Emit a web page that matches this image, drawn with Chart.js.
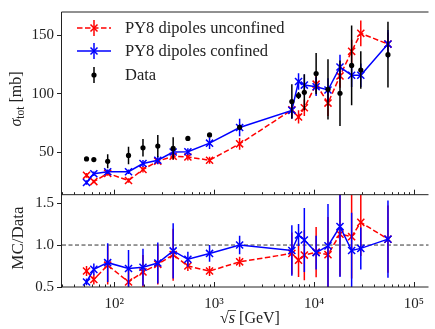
<!DOCTYPE html>
<html>
<head>
<meta charset="utf-8">
<script src="https://cdn.jsdelivr.net/npm/chart.js@4"></script>
<style>
  html, body { margin: 0; padding: 0; background: #fff; }
  #box { width: 435px; height: 329px; }
</style>
</head>
<body>
<div id="box"><canvas id="xsec" width="435" height="329"></canvas></div>
<script>
// ---------------- data ----------------
const energy = [52.8, 62.5, 86, 139, 194, 273, 389, 546, 900, 1800,
                6000, 7000, 8000, 10500, 13800, 18200, 23800, 29400, 55000];

const dataXsec = [44.5, 44, 42.5, 47.5, 54, 55.5, 53.5, 62, 65, 71.5,
                  93.5, 98.6, 101.4, 117.4, 104, 100.6, 124.4, 120.4, 133.6];
const dataErr  = [0.5, 0.5, 6, 7.5, 7.5, 9.5, 9.5, 1.5, 1.5, 2.5,
                  14.7, 3, 15.4, 17.6, 25.7, 28, 34, 16, 28];

const unconf    = [30.5, 25.2, 32.2, 26.1, 35.5, 42.6, 46.8, 46.2, 43.4, 57.4,
                   86.5, 80.4, 88.2, 108.4, 92.2, 115.4, 136.4, 151.8, 142.6];
const unconfErr = [2, 1.5, 2, 2, 2.5, 2.5, 3, 3, 3, 5,
                   7, 5.7, 7, 7, 11, 10, 10, 11, 10];

const conf    = [24.4, 31.9, 33.6, 33.6, 40.6, 43.4, 50.4, 50.7, 58, 71.4,
                 86, 110.7, 107.6, 106.2, 103.4, 123, 116, 116, 142.6];
const confErr = [2, 2, 2, 2, 3, 3.5, 4.5, 3, 5, 7.5,
                 7, 7, 9, 8, 10, 10.5, 10, 10, 12];

const ratioUnconf    = [0.69, 0.59, 0.76, 0.56, 0.68, 0.77, 0.885, 0.75, 0.69, 0.80,
                        0.90, 0.82, 0.88, 0.915, 0.885, 1.13, 1.10, 1.27, 1.07];
const ratioUnconfErr = [0.06, 0.06, 0.23, 0.17, 0.2, 0.24, 0.31, 0.06, 0.06, 0.06,
                        0.25, 0.2, 0.3, 0.3, 0.45, 0.5, 0.5, 0.4, 0.4];
const ratioConf      = [0.56, 0.71, 0.79, 0.72, 0.735, 0.786, 0.93, 0.83, 0.90, 1.0,
                        0.935, 1.12, 1.06, 0.91, 0.99, 1.22, 0.935, 0.96, 1.07];
const ratioConfErr   = [0.04, 0.07, 0.23, 0.22, 0.22, 0.245, 0.33, 0.09, 0.1, 0.11,
                        0.3, 0.13, 0.38, 0.2, 0.5, 0.6, 0.45, 0.25, 0.46];

const xTickVals   = [1e2, 1e3, 1e4, 1e5];
const xTickLabels = ["10\u00b2", "10\u00b3", "10\u2074", "10\u2075"];
const yTicks      = [50, 100, 150];
const ratioTicks  = [0.5, 1.0, 1.5];

const RED = "#ff0000", BLUE = "#0000ff", BLACK = "#000000";
const SERIF = "'Liberation Serif', 'DejaVu Serif', serif";
const INK = "#222";

const pts = (vals) => energy.map((e, i) => ({ x: e, y: vals[i] }));

// ---------------- helpers ----------------
function drawX(ctx, x, y, a) {
  ctx.beginPath();
  ctx.moveTo(x - a, y - a); ctx.lineTo(x + a, y + a);
  ctx.moveTo(x - a, y + a); ctx.lineTo(x + a, y - a);
  ctx.stroke();
}

const panelPlugin = {
  id: "panels",
  beforeDatasetsDraw(chart) {
    // dashed reference line at 1 in the ratio panel
    const { ctx, chartArea } = chart;
    const yr = chart.scales.yr;
    const y1 = yr.getPixelForValue(1.0);
    ctx.save();
    ctx.strokeStyle = "#333";
    ctx.lineWidth = 1;
    ctx.setLineDash([4, 2.5]);
    ctx.beginPath();
    ctx.moveTo(chartArea.left, y1);
    ctx.lineTo(chartArea.right, y1);
    ctx.stroke();
    ctx.restore();
  },
  beforeDatasetDraw(chart, args) {
    // error bars, drawn just under their own series
    const ds = chart.data.datasets[args.index];
    if (!ds.errors) return;
    const { ctx, chartArea } = chart;
    const xs = chart.scales.x;
    const ys = chart.scales[ds.yAxisID];
    ctx.save();
    ctx.beginPath();
    ctx.rect(chartArea.left, ys.top, chartArea.right - chartArea.left, ys.bottom - ys.top);
    ctx.clip();
    ctx.strokeStyle = ds.barColor;
    ctx.lineWidth = 1.5;
    ds.data.forEach((p, i) => {
      const e = ds.errors[i];
      const x = xs.getPixelForValue(p.x);
      ctx.beginPath();
      ctx.moveTo(x, ys.getPixelForValue(p.y - e));
      ctx.lineTo(x, ys.getPixelForValue(p.y + e));
      ctx.stroke();
    });
    ctx.restore();
  },
  afterDraw(chart) {
    const { ctx, chartArea } = chart;
    const xs = chart.scales.x, yt = chart.scales.y;
    const L = chartArea.left - 0.5;
    ctx.save();
    ctx.strokeStyle = INK;
    ctx.lineWidth = 1;
    // frames: left, top, middle, bottom
    ctx.beginPath();
    ctx.moveTo(L, chartArea.top); ctx.lineTo(L, chartArea.bottom);
    [chartArea.top, yt.bottom, chartArea.bottom].forEach(y => {
      ctx.moveTo(L, y); ctx.lineTo(chartArea.right, y);
    });
    ctx.stroke();

    // log x ticks, pointing inwards, on both panels
    ctx.beginPath();
    for (let n = 1; n <= 5; n++) {
      for (let k = 1; k <= 9; k++) {
        const v = k * Math.pow(10, n);
        if (v < xs.min || v > xs.max) continue;
        const x = Math.round(xs.getPixelForValue(v)) + 0.5;
        const len = k === 1 ? 5 : 2.5;
        [yt.bottom, chartArea.bottom].forEach(y => {
          ctx.moveTo(x, y); ctx.lineTo(x, y - len);
        });
      }
    }
    ctx.stroke();

    // legend
    const hx0 = 77, hx1 = 111, hm = 94, tx = 125;
    const rows = [
      { y: 28, color: RED, dash: [5.5, 2.5], mark: "x", text: "PY8 dipoles unconfined" },
      { y: 51, color: BLUE, dash: [], mark: "x", text: "PY8 dipoles confined" },
      { y: 75, color: BLACK, dash: null, mark: "o", text: "Data" }
    ];
    ctx.font = "16.5px " + SERIF;
    ctx.textBaseline = "middle";
    rows.forEach(r => {
      ctx.strokeStyle = r.color;
      ctx.fillStyle = r.color;
      ctx.lineWidth = 1.5;
      if (r.dash) {
        ctx.setLineDash(r.dash);
        ctx.beginPath(); ctx.moveTo(hx0, r.y); ctx.lineTo(hx1, r.y); ctx.stroke();
        ctx.setLineDash([]);
      }
      ctx.beginPath(); ctx.moveTo(hm, r.y - 8); ctx.lineTo(hm, r.y + 8); ctx.stroke();
      if (r.mark === "x") drawX(ctx, hm, r.y, 3.5);
      else { ctx.beginPath(); ctx.arc(hm, r.y, 2.6, 0, Math.PI * 2); ctx.fill(); }
      ctx.fillStyle = INK;
      ctx.fillText(r.text, tx, r.y + 1);
    });

    // axis titles
    ctx.fillStyle = INK;
    ctx.textBaseline = "alphabetic";
    // sigma_tot [mb]
    ctx.save();
    ctx.translate(21, 99);
    ctx.rotate(-Math.PI / 2);
    const fMain = "16px " + SERIF, fIt = "italic 16px " + SERIF, fSub = "11.5px " + SERIF;
    ctx.font = fIt; const wS = ctx.measureText("\u03c3").width;
    ctx.font = fSub; const wT = ctx.measureText("tot").width;
    ctx.font = fMain; const wM = ctx.measureText(" [mb]").width;
    let x0 = -(wS + wT + wM) / 2;
    ctx.font = fIt; ctx.fillText("\u03c3", x0, 0); x0 += wS;
    ctx.font = fSub; ctx.fillText("tot", x0, 3); x0 += wT;
    ctx.font = fMain; ctx.fillText(" [mb]", x0, 0);
    ctx.restore();
    // MC/Data
    ctx.save();
    ctx.translate(23, 238);
    ctx.rotate(-Math.PI / 2);
    ctx.font = "17px " + SERIF;
    ctx.textAlign = "center";
    ctx.fillText("MC/Data", 0, 0);
    ctx.restore();
    // sqrt(s) [GeV]
    ctx.font = fMain; const wR = ctx.measureText("\u221a").width;
    ctx.font = fIt; const wSs = ctx.measureText("s").width;
    ctx.font = fMain; const wG = ctx.measureText(" [GeV]").width;
    let gx = 250 - (wR + wSs + wG) / 2;
    const gy = 323;
    ctx.font = fMain; ctx.fillText("\u221a", gx, gy); gx += wR;
    ctx.font = fIt; ctx.fillText("s", gx, gy);
    ctx.strokeStyle = INK; ctx.lineWidth = 0.8;
    ctx.beginPath(); ctx.moveTo(gx - 1, gy - 12.5); ctx.lineTo(gx + wSs + 1, gy - 12.5); ctx.stroke();
    gx += wSs;
    ctx.font = fMain; ctx.fillText(" [GeV]", gx, gy);
    ctx.restore();
  }
};

// ---------------- chart ----------------
const config = {
  type: "line",
  data: {
    datasets: [
      {
        label: "Data", data: pts(dataXsec), errors: dataErr, barColor: BLACK,
        yAxisID: "y", order: 0, showLine: false,
        pointStyle: "circle", pointRadius: 2.6, pointBackgroundColor: BLACK, pointBorderWidth: 0
      },
      {
        label: "PY8 dipoles confined", data: pts(conf), errors: confErr, barColor: BLUE,
        yAxisID: "y", order: 1, borderColor: BLUE, borderWidth: 1.5,
        pointStyle: "crossRot", pointRadius: 5, pointBorderColor: BLUE, pointBorderWidth: 1.5
      },
      {
        label: "PY8 dipoles unconfined", data: pts(unconf), errors: unconfErr, barColor: RED,
        yAxisID: "y", order: 2, borderColor: RED, borderWidth: 1.5, borderDash: [5.5, 2.5],
        pointStyle: "crossRot", pointRadius: 5, pointBorderColor: RED, pointBorderWidth: 1.5
      },
      {
        label: "ratio confined", data: pts(ratioConf), errors: ratioConfErr, barColor: BLUE,
        yAxisID: "yr", order: 3, borderColor: BLUE, borderWidth: 1.5,
        pointStyle: "crossRot", pointRadius: 5, pointBorderColor: BLUE, pointBorderWidth: 1.5
      },
      {
        label: "ratio unconfined", data: pts(ratioUnconf), errors: ratioUnconfErr, barColor: RED,
        yAxisID: "yr", order: 4, borderColor: RED, borderWidth: 1.5, borderDash: [5.5, 2.5],
        pointStyle: "crossRot", pointRadius: 5, pointBorderColor: RED, pointBorderWidth: 1.5
      }
    ]
  },
  options: {
    responsive: false,
    animation: false,
    events: [],
    layout: { padding: { top: 7, right: 0, bottom: 0, left: 0 } },
    plugins: { legend: { display: false }, tooltip: { enabled: false } },
    scales: {
      x: {
        type: "logarithmic", position: "bottom", min: 30, max: 1.4e5,
        grid: { display: false, drawTicks: false },
        border: { display: false },
        afterBuildTicks: (s) => { s.ticks = xTickVals.map(v => ({ value: v })); },
        afterFit: (s) => { s.height = 42; },
        ticks: {
          autoSkip: false, maxRotation: 0, padding: 8, color: INK,
          font: { family: SERIF, size: 15 },
          callback: (v) => xTickLabels[xTickVals.indexOf(v)]
        }
      },
      yr: {
        position: "left", stack: "panels", stackWeight: 94, min: 0.5, max: 1.6,
        grid: { drawOnChartArea: false, tickLength: 5, color: INK },
        border: { display: false },
        afterBuildTicks: (s) => { s.ticks = ratioTicks.map(v => ({ value: v })); },
        afterFit: (s) => { s.width = 62; },
        ticks: { padding: 3, color: INK, font: { family: SERIF, size: 15 }, callback: (v) => v.toFixed(1) }
      },
      y: {
        position: "left", stack: "panels", stackWeight: 186, min: 14, max: 170,
        grid: { drawOnChartArea: false, tickLength: 5, color: INK },
        border: { display: false },
        afterBuildTicks: (s) => { s.ticks = yTicks.map(v => ({ value: v })); },
        afterFit: (s) => { s.width = 62; },
        ticks: { padding: 3, color: INK, font: { family: SERIF, size: 15 } }
      }
    }
  },
  plugins: [panelPlugin]
};

const chart = new Chart(document.getElementById("xsec"), config);
</script>
</body>
</html>
